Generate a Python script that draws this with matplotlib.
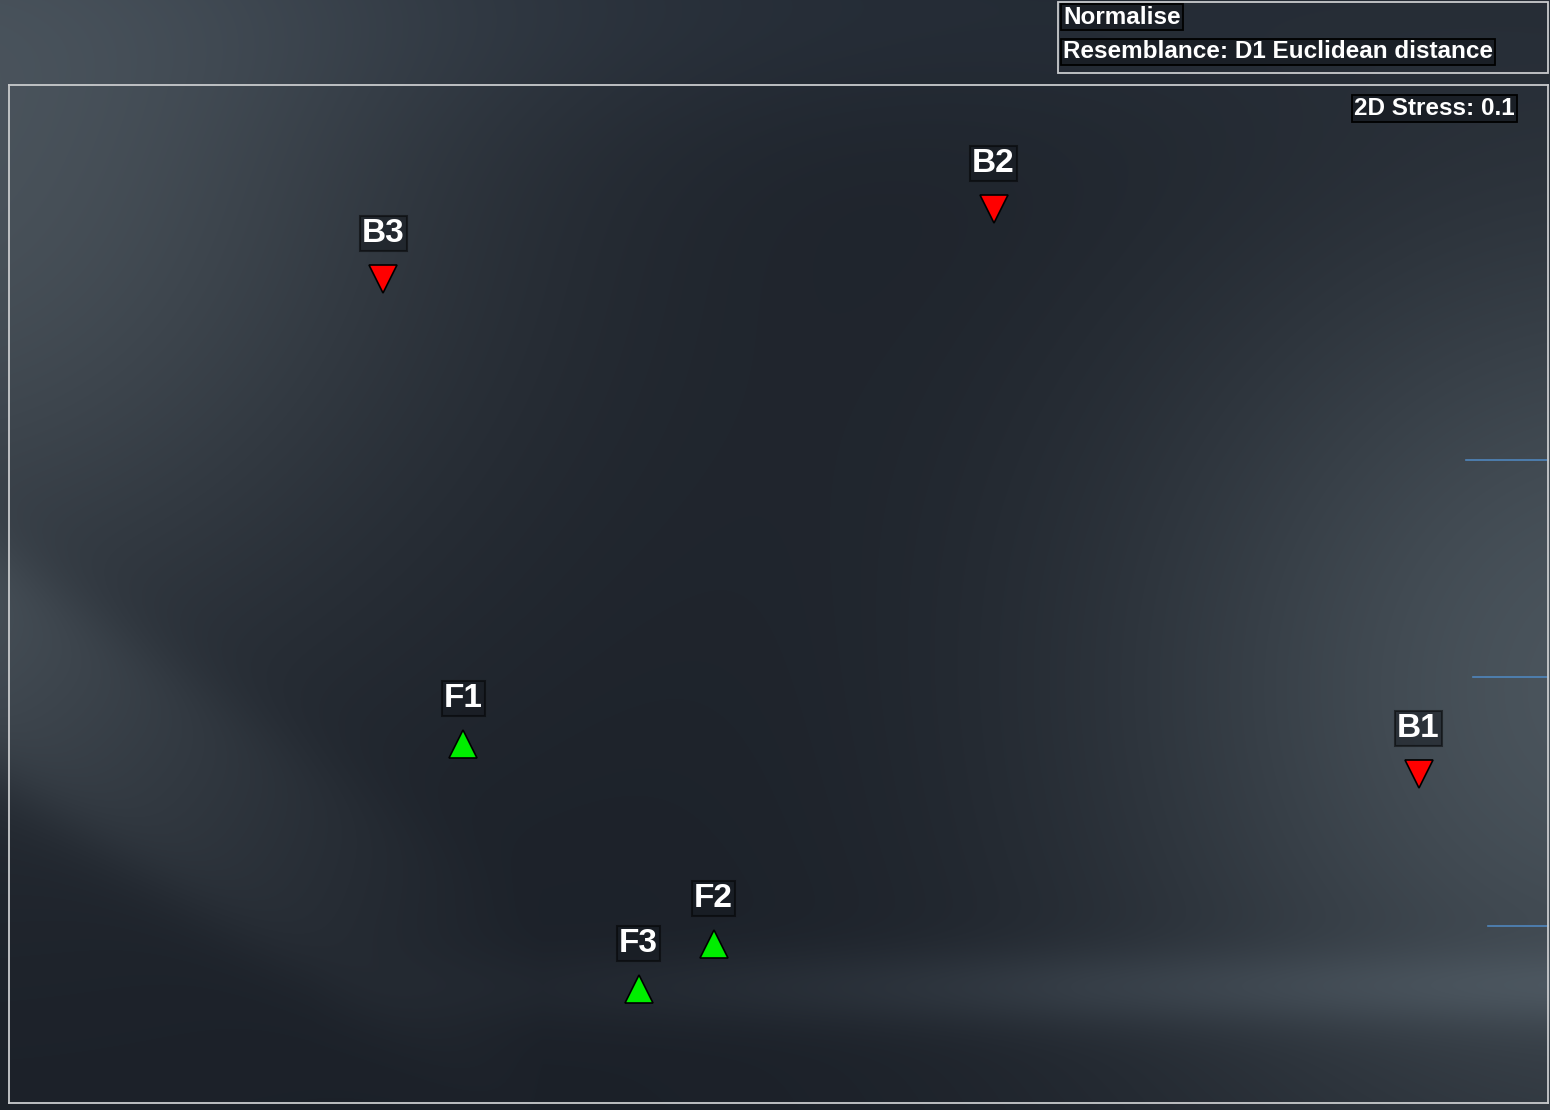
import numpy as np
import matplotlib.pyplot as plt
from matplotlib.patches import Rectangle

# nMDS ordination of the six samples
samples = ["B1", "B2", "B3", "F1", "F2", "F3"]
groups = ["B", "B", "B", "F", "F", "F"]
mds1 = [1.28, 0.43, -0.79, -0.63, -0.13, -0.28]
mds2 = [-0.36, 0.77, 0.63, -0.30, -0.70, -0.79]
stress = 0.1
header_lines = ["Normalise", "Resemblance: D1 Euclidean distance"]

group_marker = {"B": "v", "F": "^"}
group_color = {"B": "#ff0000", "F": "#00ee00"}

W, H = 1550, 1110
plt.rcParams['font.family'] = ['Liberation Sans', 'DejaVu Sans']

fig = plt.figure(figsize=(W / 100, H / 100), dpi=100)

# dark slate backdrop
yy, xx = np.mgrid[0:H, 0:W]
u = xx / W
v = yy / H
base = np.array([27, 32, 40], float)
img = np.ones((H, W, 3)) * base
def blob(cx, cy, sx, sy, amp):
    g = np.exp(-(((u - cx) / sx) ** 2 + ((v - cy) / sy) ** 2))
    return g[..., None] * np.array(amp, float)
img += blob(-0.05, 0.15, 0.35, 0.45, [46, 50, 50])
img += blob(1.05, 0.62, 0.33, 0.45, [48, 53, 53])
img += blob(0.5, 0.0, 0.6, 0.12, [8, 10, 12])
# soft diagonal swoosh on the lower left
d1 = v - (0.50 + 0.9 * u)
d2 = v - (0.70 + 0.9 * u)
band = 1 / (1 + np.exp(-d1 / 0.02)) * (1 - 1 / (1 + np.exp(-d2 / 0.02)))
img += (band * np.clip(1 - u / 0.35, 0, 1))[..., None] * np.array([22, 24, 24])
# faint horizontal band near the bottom
hb = np.exp(-((v - 0.89) / 0.035) ** 2) * np.clip((u - 0.2) / 0.5, 0, 1)
img += hb[..., None] * np.array([16, 18, 19])
img = np.clip(img, 0, 255).astype(np.uint8)

bg = fig.add_axes([0, 0, 1, 1], zorder=0)
bg.imshow(img, aspect='auto', extent=(0, W, H, 0))
bg.set_xlim(0, W)
bg.set_ylim(H, 0)
bg.axis('off')

ax = fig.add_axes([9 / W, 7 / H, 1539 / W, 1018 / H], zorder=1)
ax.set_facecolor('none')
for s in ax.spines.values():
    s.set_edgecolor('#c9cbcd')
    s.set_linewidth(1.3)
ax.set_xticks([])
ax.set_yticks([])
ax.set_xlim(-1.539, 1.539)
ax.set_ylim(-1.018, 1.018)

label_box = dict(boxstyle='square,pad=0.06', fc='#15191f', ec='black',
                 lw=1.5, alpha=0.5)

for name, g, x, y in zip(samples, groups, mds1, mds2):
    ax.plot(x, y, marker=group_marker[g], color=group_color[g],
            markeredgecolor='black', markeredgewidth=1.2, markersize=20,
            linestyle='none')
    ax.annotate(name, (x, y), xytext=(0, 33), textcoords='offset points',
                ha='center', va='center', color='white', fontsize=24,
                fontweight='bold', bbox=label_box)

# short blue strokes along the right edge
for fy, fx in [(0.632, 0.947), (0.418, 0.951), (0.174, 0.961)]:
    ax.plot([fx, 1.0], [fy, fy], transform=ax.transAxes,
            color='#4f86bd', lw=1.2, clip_on=False)

ax.text(0.9785, 0.977, f"2D Stress: {stress}", transform=ax.transAxes,
        ha='right', va='center', color='white', fontsize=17.5,
        fontweight='bold',
        bbox=dict(boxstyle='square,pad=0.08', fc='#1a1f26', ec='black', lw=1.3))

# resemblance header in the top right
fig.patches.append(Rectangle((1058 / W, 1 - 73 / H), 490 / W, 71 / H,
                             transform=fig.transFigure, fill=False,
                             ec='#c9cbcd', lw=1.3, zorder=2))
for i, line in enumerate(header_lines):
    fig.text(1063 / W, 1 - (17 + 35 * i) / H, line, ha='left', va='center',
             color='white', fontsize=17.5, fontweight='bold', zorder=3,
             bbox=dict(boxstyle='square,pad=0.08', fc='#1a1f26', ec='black',
                       lw=1.3))

fig.savefig('out.png', dpi=100)
